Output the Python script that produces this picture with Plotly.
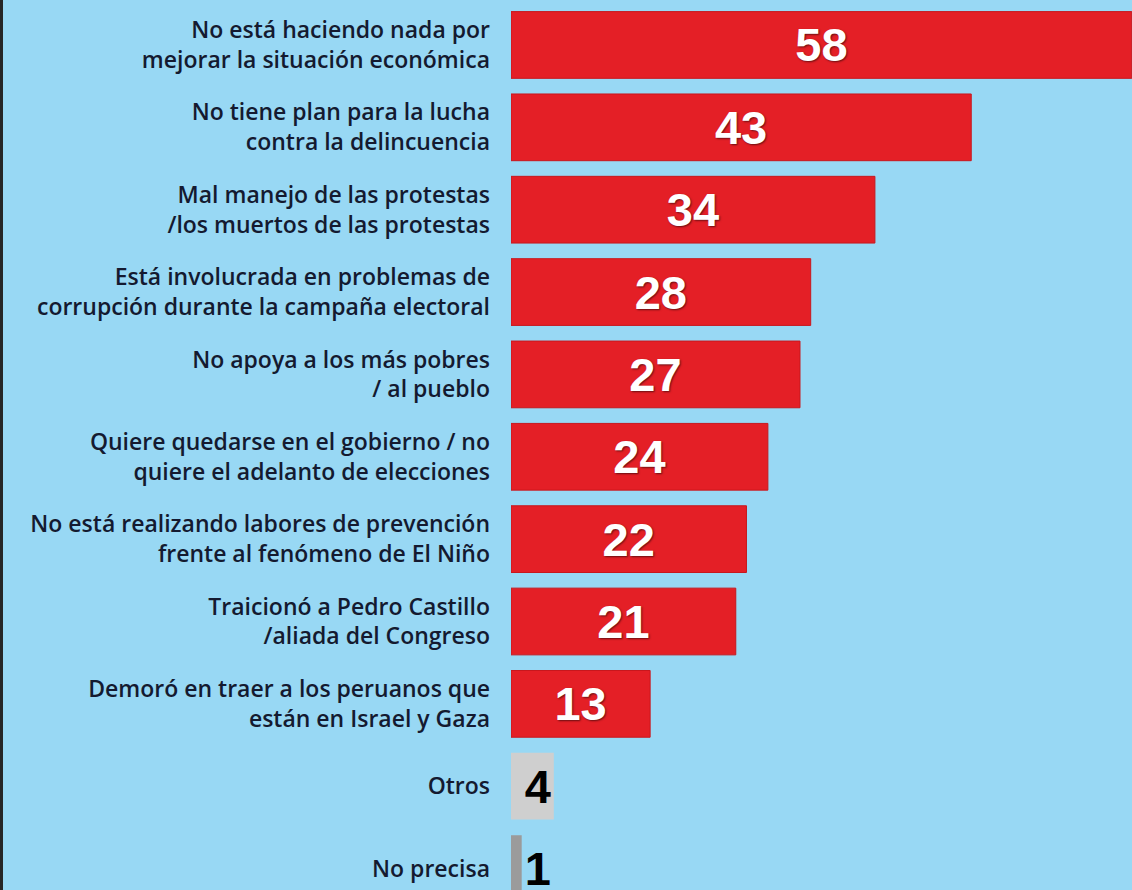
import plotly.graph_objects as go

categories = [
    "No está haciendo nada por<br>mejorar la situación económica",
    "No tiene plan para la lucha<br>contra la delincuencia",
    "Mal manejo de las protestas<br>/los muertos de las protestas",
    "Está involucrada en problemas de<br>corrupción durante la campaña electoral",
    "No apoya a los más pobres<br>/ al pueblo",
    "Quiere quedarse en el gobierno / no<br>quiere el adelanto de elecciones",
    "No está realizando labores de prevención<br>frente al fenómeno de El Niño",
    "Traicionó a Pedro Castillo<br>/aliada del Congreso",
    "Demoró en traer a los peruanos que<br>están en Israel y Gaza",
    "Otros",
    "No precisa",
]
values = [58, 43, 34, 28, 27, 24, 22, 21, 13, 4, 1]

main_cats = categories[:9]
main_vals = values[:9]
other_cats = categories[9:]
other_vals = values[9:]
other_colors = ["#cfcfcf", "#9b9b9b"]
other_pos = ["inside", "outside"]

fig = go.Figure()
fig.add_trace(
    go.Bar(
        x=main_vals,
        y=main_cats,
        orientation="h",
        width=0.81,
        marker=dict(color="#e41f26", line=dict(color="#c8171d", width=1)),
        text=[str(v) for v in main_vals],
        textposition="inside",
        insidetextanchor="middle",
        textangle=0,
        constraintext="none",
        textfont=dict(family="Liberation Sans", size=47, color="white", weight="bold",
                      shadow="1px 1px 2px rgba(0,0,0,0.55)"),
        hoverinfo="skip",
    )
)
fig.add_trace(
    go.Bar(
        x=other_vals,
        y=other_cats,
        orientation="h",
        width=0.81,
        marker=dict(color=other_colors, line=dict(width=0)),
        text=[str(v) for v in other_vals],
        textposition=other_pos,
        insidetextanchor="end",
        textangle=0,
        constraintext="none",
        textfont=dict(family="Liberation Sans", size=47, color="black", weight="bold"),
        outsidetextfont=dict(family="Liberation Sans", size=47, color="black", weight="bold"),
        cliponaxis=False,
        hoverinfo="skip",
    )
)

fig.update_layout(
    width=1132,
    height=890,
    margin=dict(l=511, r=0, t=0, b=0),
    paper_bgcolor="#98d8f4",
    plot_bgcolor="#98d8f4",
    showlegend=False,
    barmode="overlay",
    uniformtext=dict(mode=False),
    xaxis=dict(range=[0, 58.02], visible=False, fixedrange=True),
    yaxis=dict(
        range=[10.26, -0.546],
        categoryorder="array",
        categoryarray=categories,
        showgrid=False,
        zeroline=False,
        showline=False,
        ticks="",
        ticklabelstandoff=20,
        tickfont=dict(family="Open Sans", size=23, color="#141a30", weight=600),
    ),
    shapes=[
        dict(type="rect", xref="paper", yref="paper",
             x0=-511 / 621, x1=-508 / 621, y0=0, y1=1,
             fillcolor="#262626", line=dict(width=0), layer="above"),
    ],
)

fig.write_html("out.html")
